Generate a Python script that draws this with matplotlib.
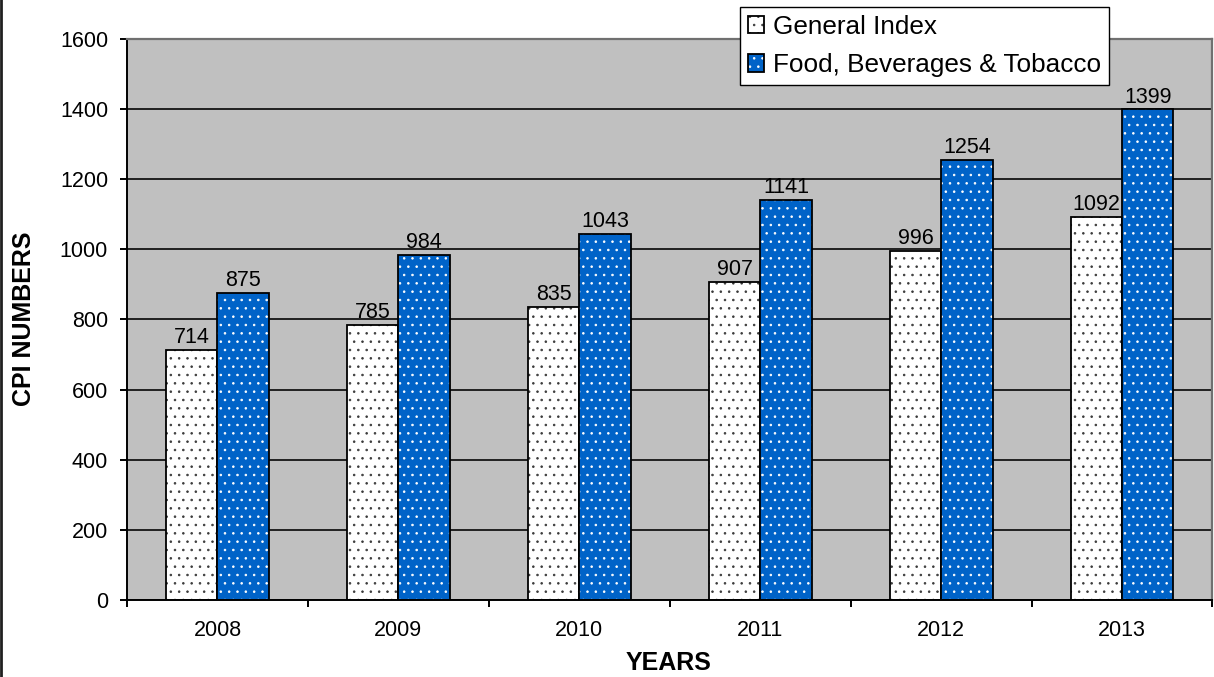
import matplotlib
matplotlib.use('Agg')
import matplotlib.pyplot as plt
from matplotlib.lines import Line2D
from matplotlib.legend_handler import HandlerTuple
import numpy as np

# chart data
years = ['2008', '2009', '2010', '2011', '2012', '2013']
general_index = [714, 785, 835, 907, 996, 1092]
food_bev_tobacco = [875, 984, 1043, 1141, 1254, 1399]
series_names = ['General Index', 'Food, Beverages & Tobacco']

plt.rcParams['font.family'] = ['Liberation Sans', 'DejaVu Sans']
plt.rcParams['hatch.linewidth'] = 0.6

blue = '#0063C8'
plot_bg = '#C0C0C0'

fig = plt.figure(figsize=(12.14, 6.77), dpi=100)
ax = fig.add_axes([0.10461, 0.11374, 0.99876 - 0.10461, 0.94239 - 0.11374])
ax.set_facecolor(plot_bg)

x = np.arange(len(years))
w = 0.284

# general index: white with dark dots
g_fill = ax.bar(x - w / 2, general_index, w, color='white', edgecolor='#3a3a3a',
                hatch='..', linewidth=0)
g_edge = ax.bar(x - w / 2, general_index, w, fill=False, edgecolor='black',
                linewidth=1.3)
# food, beverages & tobacco: blue with white dots
f_fill = ax.bar(x + w / 2, food_bev_tobacco, w, color=blue, edgecolor='white',
                hatch='..', linewidth=0)
f_edge = ax.bar(x + w / 2, food_bev_tobacco, w, fill=False, edgecolor='black',
                linewidth=1.3)

# value labels
for xi, v in zip(x - w / 2, general_index):
    ax.annotate(str(v), (xi, v), xytext=(0, 5), textcoords='offset points',
                ha='center', va='baseline', fontsize=15.5)
for xi, v in zip(x + w / 2, food_bev_tobacco):
    ax.annotate(str(v), (xi, v), xytext=(0, 5), textcoords='offset points',
                ha='center', va='baseline', fontsize=15.5)

ax.set_xlim(-0.5, len(years) - 0.5)
ax.set_ylim(0, 1600)
ax.set_yticks(np.arange(0, 1601, 200))
ax.tick_params(axis='y', direction='out', length=5, width=1.4, pad=8.6,
               labelsize=15.5)

ax.set_xticks(x)
ax.set_xticklabels(years)
ax.set_xticks(np.arange(-0.5, len(years), 1.0), minor=True)
ax.tick_params(axis='x', which='major', length=0, pad=14.4, labelsize=15.5)
ax.tick_params(axis='x', which='minor', direction='out', length=5, width=1.4)

ax.yaxis.grid(True, color='#202020', linewidth=1.4)
ax.set_axisbelow(True)

ax.spines['left'].set_color('black')
ax.spines['left'].set_linewidth(1.4)
ax.spines['bottom'].set_color('black')
ax.spines['bottom'].set_linewidth(1.4)
ax.spines['top'].set_color('#707070')
ax.spines['top'].set_linewidth(1.6)
ax.spines['right'].set_color('#707070')
ax.spines['right'].set_linewidth(1.6)

fig.text(24 / 1214, 1 - 319 / 677, 'CPI NUMBERS', rotation=90, ha='center',
         va='center', fontsize=18, fontweight='bold')
fig.text(669 / 1214, 1 - 663 / 677, 'YEARS', ha='center', va='center',
         fontsize=18, fontweight='bold')

leg = fig.legend([(g_fill[0], g_edge[0]), (f_fill[0], f_edge[0])], series_names,
                 handler_map={tuple: HandlerTuple(ndivide=1)},
                 loc='upper left', bbox_to_anchor=(740 / 1214, 1 - 7 / 677),
                 borderaxespad=0, fontsize=18.8, fancybox=False,
                 edgecolor='black', framealpha=1, borderpad=0.3,
                 labelspacing=0.55, handlelength=0.63, handleheight=0.63,
                 handletextpad=0.35)
leg.get_frame().set_linewidth(1.0)

# left border of the original chart frame
fig.add_artist(Line2D([1.5 / 1214, 1.5 / 1214], [0, 1], color='#202020',
                      linewidth=2, transform=fig.transFigure))

fig.savefig('out.png', dpi=100)
